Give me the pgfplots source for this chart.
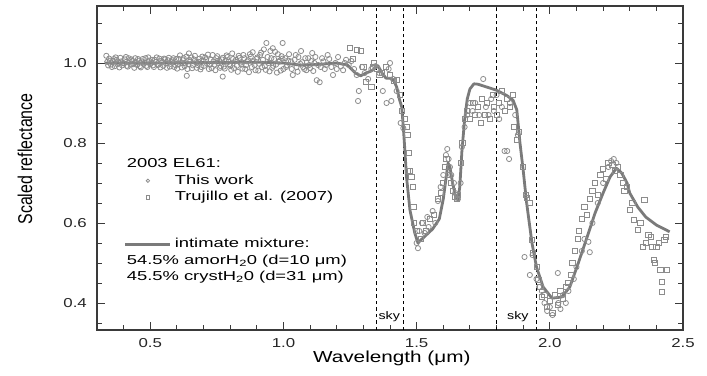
\documentclass[border=0pt]{standalone}
\usepackage{pgfplots}
\pgfplotsset{compat=1.18}
\usepackage{pgfplotstable}
\usepackage{fontspec}
\setmainfont{Liberation Sans}[FakeStretch=1.3]
\newfontfamily\legfont{Liberation Sans}[FakeStretch=1.42]
\newfontfamily\ylfont{Liberation Sans}[FakeStretch=0.8]
\definecolor{mk}{HTML}{8C8C8C}
\definecolor{md}{HTML}{7A7A7A}
\definecolor{fr}{HTML}{3A3A3A}

\pgfplotsset{myleg/.style={legend image code/.code={\draw[mark repeat=2,mark phase=2,##1,mark size=1.7bp] plot coordinates {(0bp,0bp) (22.5bp,0bp) (45bp,0bp)}; \path (48bp,0bp);}}}

\pgfplotstableread{
x y
0.335 1.018
0.342 0.994
0.349 1.006
0.356 0.990
0.363 1.010
0.370 1.014
0.377 0.997
0.384 0.989
0.391 1.004
0.398 1.000
0.405 1.009
0.412 0.993
0.419 1.012
0.426 0.996
0.433 1.005
0.440 0.988
0.447 1.002
0.454 1.010
0.461 0.992
0.468 1.004
0.475 0.998
0.482 1.012
0.489 0.990
0.496 1.006
0.503 1.001
0.510 0.994
0.517 1.008
0.524 1.014
0.531 0.996
0.538 0.989
0.545 1.003
0.552 1.011
0.559 0.999
0.566 1.007
0.573 0.991
0.580 1.004
0.587 1.012
0.594 0.995
0.601 0.986
0.608 1.010
0.615 1.000
0.622 1.007
0.629 0.992
0.636 1.016
0.637 0.968
0.643 0.997
0.645 1.024
0.650 1.004
0.657 0.987
0.664 1.009
0.671 1.002
0.678 0.995
0.685 1.011
0.692 0.990
0.699 1.006
0.706 1.014
0.713 0.998
0.720 0.985
0.727 1.008
0.734 1.020
0.741 0.996
0.748 1.012
0.755 1.000
0.762 0.988
0.769 1.009
0.772 0.966
0.776 0.991
0.783 1.006
0.790 1.015
0.797 0.997
0.804 0.983
0.811 1.010
0.818 1.004
0.825 0.993
0.832 1.018
0.839 1.001
0.846 0.986
0.853 1.012
0.860 0.995
0.867 1.007
0.874 1.022
0.881 0.990
0.888 1.004
0.895 0.982
0.902 1.014
0.909 0.998
0.916 1.026
0.923 1.008
0.930 0.992
0.936 1.050
0.944 1.000
0.951 1.030
0.958 0.988
0.960 1.037
0.965 1.010
0.972 0.996
0.979 1.022
0.986 1.006
0.993 1.017
0.997 1.050
1.000 0.985
0.3385 1.003
0.3455 1.011
0.3525 0.996
0.3595 1.005
0.3665 0.992
0.3735 1.008
0.3805 1.001
0.3875 1.013
0.3945 0.994
0.4015 0.999
0.4085 1.015
0.4155 0.991
0.4225 1.004
0.4295 1.009
0.4365 0.997
0.4435 1.012
0.4505 0.995
0.4575 1.006
0.4645 0.989
0.4715 1.010
0.4785 1.001
0.4855 0.993
0.4925 1.014
0.4995 0.997
0.5065 1.008
0.5135 0.990
0.5205 1.003
0.5275 0.995
0.5345 1.011
0.5415 1.006
0.5485 0.993
0.5555 1.009
0.5625 0.988
0.5695 1.013
0.5765 0.998
0.5835 1.007
0.5905 0.990
0.5975 1.010
0.6045 0.996
0.6115 1.019
0.6185 0.989
0.6255 1.012
0.6325 0.999
0.6395 0.985
0.6465 1.008
0.6535 1.014
0.6605 0.994
0.6675 1.018
0.6745 0.988
0.6815 1.003
0.6885 0.984
0.6955 1.016
0.7025 0.993
0.7095 1.009
0.7165 1.021
0.7235 0.996
0.7305 0.987
0.7375 1.004
0.7445 0.982
0.7515 1.017
0.7585 1.006
0.7655 0.992
0.7725 1.013
0.7795 0.986
0.7865 1.019
0.7935 1.003
0.8005 0.993
0.8075 1.024
0.8145 0.987
0.8215 1.008
0.8285 0.978
0.8355 1.013
0.8425 0.996
0.8495 1.020
0.8565 0.985
0.8635 1.004
0.8705 0.977
0.8775 1.016
0.8845 1.027
0.8915 0.995
0.8985 1.010
0.9055 0.981
0.9125 1.020
0.9195 0.990
0.9265 1.034
0.9335 0.983
0.9405 1.015
0.9475 0.979
0.9545 1.012
0.9615 0.993
0.9685 1.028
0.9755 0.976
0.9825 1.003
0.9895 0.981
0.9965 1.011
1.007 1.012
1.010 0.990
1.014 0.994
1.018 1.006
1.021 1.022
1.028 1.004
1.031 0.985
1.035 0.970
1.042 1.008
1.046 1.020
1.049 0.990
1.053 0.978
1.056 1.015
1.063 0.998
1.066 1.030
1.070 1.002
1.074 0.990
1.078 0.985
1.082 1.012
1.086 0.982
1.093 1.012
1.097 0.995
1.100 0.987
1.104 1.005
1.108 1.025
1.112 0.980
1.116 1.000
1.120 1.015
1.125 0.957
1.130 0.995
1.136 0.952
1.140 0.990
1.145 1.012
1.150 1.004
1.155 0.985
1.160 0.995
1.166 1.020
1.172 1.010
1.180 0.990
1.186 0.970
1.195 1.000
1.200 0.985
1.205 1.015
1.215 0.992
1.224 0.982
1.230 1.000
1.235 1.008
1.245 0.995
1.255 1.005
1.265 0.985
1.275 0.970
1.280 0.905
1.283 0.930
1.295 0.990
1.305 0.975
1.318 0.960
1.330 0.985
1.345 0.992
1.360 0.975
1.373 0.930
1.387 0.900
1.395 0.985
1.400 1.000
1.405 0.905
1.412 0.960
1.425 0.930
1.440 0.850
1.450 0.837
1.500 0.550
1.505 0.537
1.510 0.580
1.520 0.600
1.530 0.575
1.540 0.615
1.545 0.590
1.560 0.630
1.570 0.600
1.580 0.655
1.590 0.690
1.600 0.720
1.610 0.770
1.615 0.785
1.620 0.760
1.625 0.740
1.630 0.720
1.640 0.700
1.645 0.675
1.655 0.660
1.665 0.700
1.670 0.790
1.680 0.840
1.690 0.870
1.700 0.900
1.710 0.880
1.720 0.900
1.735 0.870
1.750 0.960
1.760 0.890
1.770 0.870
1.780 0.910
1.790 0.880
1.800 0.920
1.810 0.860
1.820 0.890
1.830 0.780
1.840 0.780
1.847 0.760
1.850 0.900
1.870 0.870
1.880 0.820
1.905 0.515
1.925 0.470
1.935 0.520
1.950 0.460
1.960 0.440
1.970 0.430
1.980 0.400
1.990 0.380
2.000 0.390
2.010 0.370
2.030 0.475
2.032 0.400
2.040 0.385
2.050 0.420
2.060 0.400
2.070 0.430
2.090 0.460
2.100 0.490
2.120 0.530
2.130 0.560
2.145 0.553
2.150 0.527
2.160 0.600
2.180 0.650
2.200 0.700
2.220 0.740
2.230 0.755
2.240 0.760
2.250 0.750
}\circdata

\pgfplotstableread{
x y
1.249 1.037
1.262 1.010
1.275 1.032
1.290 1.030
1.300 0.990
1.310 0.952
1.330 0.940
1.335 0.990
1.340 1.000
1.350 0.985
1.360 0.970
1.370 0.975
1.385 0.990
1.400 0.970
1.415 0.955
1.425 0.957
1.437 0.920
1.445 0.880
1.456 0.860
1.462 0.840
1.465 0.820
1.470 0.775
1.468 0.730
1.475 0.730
1.480 0.715
1.485 0.690
1.488 0.640
1.490 0.600
1.500 0.580
1.515 0.560
1.525 0.600
1.535 0.580
1.550 0.610
1.565 0.620
1.580 0.660
1.590 0.675
1.600 0.700
1.605 0.740
1.612 0.760
1.620 0.720
1.628 0.700
1.635 0.680
1.645 0.665
1.650 0.660
1.655 0.670
1.665 0.750
1.672 0.800
1.680 0.860
1.690 0.880
1.700 0.860
1.710 0.900
1.720 0.870
1.730 0.890
1.740 0.850
1.745 0.910
1.755 0.870
1.765 0.900
1.775 0.860
1.785 0.920
1.790 0.890
1.800 0.870
1.810 0.900
1.820 0.930
1.830 0.880
1.840 0.910
1.850 0.890
1.860 0.920
1.865 0.840
1.876 0.807
1.885 0.827
1.900 0.740
1.910 0.670
1.914 0.662
1.925 0.650
1.933 0.557
1.937 0.525
1.950 0.490
1.957 0.457
1.965 0.440
1.970 0.415
1.980 0.420
1.990 0.390
2.000 0.405
2.010 0.375
2.020 0.420
2.030 0.395
2.040 0.430
2.050 0.410
2.060 0.440
2.070 0.450
2.080 0.470
2.085 0.500
2.095 0.530
2.105 0.560
2.110 0.580
2.120 0.610
2.130 0.640
2.140 0.620
2.150 0.660
2.160 0.680
2.170 0.700
2.180 0.670
2.190 0.720
2.200 0.735
2.210 0.710
2.220 0.750
2.235 0.745
2.245 0.730
2.255 0.740
2.265 0.720
2.275 0.700
2.280 0.680
2.290 0.690
2.300 0.632
2.310 0.650
2.315 0.607
2.330 0.582
2.340 0.600
2.350 0.540
2.355 0.657
2.360 0.550
2.370 0.570
2.380 0.565
2.385 0.540
2.390 0.507
2.395 0.500
2.400 0.540
2.410 0.550
2.415 0.482
2.420 0.452
2.422 0.427
2.430 0.557
2.435 0.565
2.440 0.482
}\sqdata

\pgfplotstableread{
x y
0.33 1.000
0.50 1.000
0.70 1.001
0.90 1.002
1.00 1.000
1.06 0.995
1.12 0.996
1.20 1.000
1.24 0.995
1.27 0.975
1.29 0.968
1.31 0.975
1.33 0.980
1.355 0.993
1.37 0.975
1.385 0.962
1.40 0.962
1.415 0.955
1.425 0.940
1.435 0.910
1.444 0.890
1.450 0.840
1.456 0.780
1.462 0.715
1.475 0.632
1.493 0.575
1.505 0.550
1.52 0.560
1.56 0.585
1.585 0.610
1.60 0.660
1.61 0.710
1.618 0.750
1.625 0.740
1.635 0.700
1.645 0.670
1.655 0.658
1.662 0.690
1.67 0.780
1.68 0.857
1.69 0.910
1.70 0.935
1.715 0.948
1.73 0.947
1.80 0.932
1.84 0.918
1.862 0.907
1.876 0.883
1.888 0.800
1.90 0.732
1.913 0.650
1.933 0.550
1.95 0.490
1.975 0.440
2.008 0.412
2.045 0.415
2.075 0.440
2.107 0.500
2.14 0.565
2.17 0.625
2.20 0.675
2.226 0.715
2.25 0.737
2.27 0.725
2.29 0.700
2.30 0.675
2.33 0.640
2.36 0.615
2.40 0.595
2.45 0.578
}\modeldata

\newcommand{\sA}{\rule[-5bp]{0pt}{16.5bp}}
\newcommand{\sB}{\rule[-5bp]{0pt}{30.5bp}}

\begin{document}
\begin{tikzpicture}
\useasboundingbox (-97bp,-46bp) rectangle (610bp,330bp);
\begin{axis}[
  at={(0,0)}, anchor=south west,
  scale only axis, width=586bp, height=324bp,
  xmin=0.3, xmax=2.5, ymin=0.3325, ymax=1.1425,
  xtick={0.5,1.0,1.5,2.0,2.5},
  ytick={0.4,0.6,0.8,1.0},
  minor xtick={0.3,0.4,...,2.45},
  minor ytick={0.35,0.40,...,1.12},
  xtick pos=both, ytick pos=both,
  xticklabel pos=lower, yticklabel pos=left,
  tick align=inside,
  major tick length=8bp, minor tick length=5bp,
  axis line style={line width=1.4bp, fr},
  tick style={line width=1bp, fr},
  /pgf/number format/assume math mode=true,
  xticklabel={\pgfmathprintnumber[fixed,fixed zerofill,precision=1]{\tick}},
  yticklabel={\pgfmathprintnumber[fixed,fixed zerofill,precision=1]{\tick}},
  xticklabel style={font=\fontsize{13}{15}\selectfont, anchor=center, yshift=-13bp, text=black!85},
  yticklabel style={font=\fontsize{13}{15}\selectfont, anchor=east, inner sep=0pt, xshift=-10bp, text=black!85},
  xlabel={Wavelength (μm)},
  xlabel style={font=\fontsize{16}{18}\selectfont, at={(axis description cs:0.503,-0.0864)}, anchor=center, inner sep=0pt},
  ylabel={Scaled reflectance},
  ylabel style={font=\ylfont\fontsize{20}{22}\selectfont, at={(axis description cs:-0.1229,0.528)}, anchor=center, inner sep=0pt},
  myleg,
  legend style={at={(rel axis cs:0.0461,0.537)}, anchor=north west, draw=none, fill=none,
    inner sep=0pt, outer sep=0pt, row sep=0pt, column sep=0pt,
    font=\legfont\fontsize{13}{15}\selectfont,
    cells={anchor=west}, nodes={inner sep=0pt, outer sep=0pt, text depth={}, text height={}}},
  legend cell align=left,
  clip=true,
]
\addplot[forget plot, black, line width=1bp, dash pattern=on 3.5bp off 3bp] coordinates {(1.35,0.3325) (1.35,1.1425)};
\addplot[forget plot, black, line width=1bp, dash pattern=on 3.5bp off 3bp] coordinates {(1.45,0.3325) (1.45,1.1425)};
\addplot[forget plot, black, line width=1bp, dash pattern=on 3.5bp off 3bp] coordinates {(1.80,0.3325) (1.80,1.1425)};
\addplot[forget plot, black, line width=1bp, dash pattern=on 3.5bp off 3bp] coordinates {(1.95,0.3325) (1.95,1.1425)};

\addlegendimage{empty legend}
\addlegendentry{\hspace*{-48bp}\sA 2003 EL61:}
\addplot[only marks, mark=o, mark size=2.6bp, mark options={draw=mk, line width=0.8bp}] table[x=x,y=y] {\circdata};
\addlegendentry{\sA This work}
\addplot[only marks, mark=square, mark size=2.6bp, mark options={draw=mk, line width=0.8bp}] table[x=x,y=y] {\sqdata};
\addlegendentry{\sA Trujillo et al. (2007)}
\addlegendimage{empty legend}
\addlegendentry{\sB}
\addplot[md, line width=2.8bp, line join=round, no marks] table[x=x,y=y] {\modeldata};
\addlegendentry{\sA intimate mixture:}
\addlegendimage{empty legend}
\addlegendentry{\hspace*{-48bp}\sA 54.5\% amorH\textsubscript{2}0 (d=10 μm)}
\addlegendimage{empty legend}
\addlegendentry{\hspace*{-48bp}\sA 45.5\% crystH\textsubscript{2}0 (d=31 μm)}

\node[font=\fontsize{11}{13}\selectfont, inner sep=0pt] at (axis cs:1.397,0.366) {sky};
\node[font=\fontsize{11}{13}\selectfont, inner sep=0pt] at (axis cs:1.880,0.366) {sky};
\end{axis}
\end{tikzpicture}
\end{document}
